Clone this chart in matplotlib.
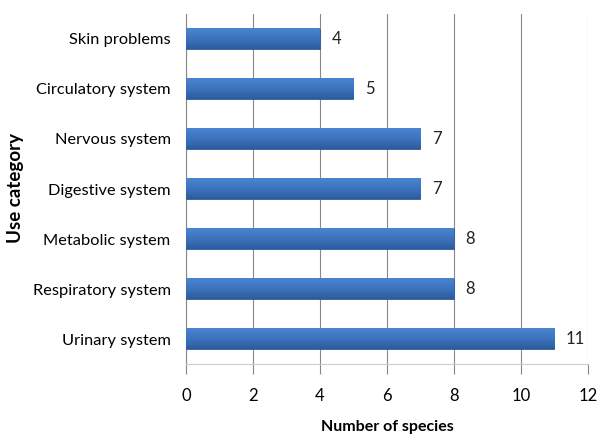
import numpy as np
from matplotlib import pyplot as plt
from matplotlib.colors import LinearSegmentedColormap

categories = ['Urinary system', 'Respiratory system', 'Metabolic system', 'Digestive system',
              'Nervous system', 'Circulatory system', 'Skin problems']
species = [11, 8, 8, 7, 7, 5, 4]
x_ticks = [0, 2, 4, 6, 8, 10, 12]

plt.rcParams['font.family'] = ['Lato', 'DejaVu Sans']

fig = plt.figure(figsize=(5.98, 4.34), dpi=100)
ax = fig.add_axes([0.311, 0.161, 0.672, 0.807])

y = np.arange(len(categories))
bars = ax.barh(y, species, height=0.4, color='#3b6fb9', edgecolor='#2f5e9e', linewidth=0.6, zorder=3)

# 渐变效果：上浅下深
cmap = LinearSegmentedColormap.from_list('bar', ['#4a84cf', '#3d73bf', '#2d5c9c'])
grad = np.linspace(0, 1, 50).reshape(-1, 1)
for b in bars:
    x0, y0, w, h = b.get_x(), b.get_y(), b.get_width(), b.get_height()
    ax.imshow(grad, cmap=cmap, aspect='auto', extent=[x0, x0 + w, y0, y0 + h], zorder=4)

for yi, v in zip(y, species):
    ax.text(v + 0.35, yi, str(v), va='center', ha='left', fontsize=12, color='#222222')

ax.set_xlim(0, 12)
ax.set_ylim(-0.5, len(categories) - 0.5)
ax.set_xticks(x_ticks)
ax.set_yticks(y)
ax.set_yticklabels(categories, fontsize=11.8)
ax.tick_params(axis='x', labelsize=12, length=7, color='#888888', pad=10)
ax.tick_params(axis='y', length=0, pad=11)

ax.grid(axis='x', color='#888888', linewidth=0.8, zorder=0)
for s in ['top', 'right']:
    ax.spines[s].set_visible(False)
ax.spines['left'].set_color('#888888')
ax.spines['bottom'].set_color('#cccccc')

ax.set_xlabel('Number of species', fontsize=11.5, fontweight='bold', labelpad=12)
ax.set_ylabel('Use category', fontsize=13.5, fontweight='bold')
ax.yaxis.set_label_coords(-0.403, 0.503)

fig.savefig('out.png', dpi=100)
